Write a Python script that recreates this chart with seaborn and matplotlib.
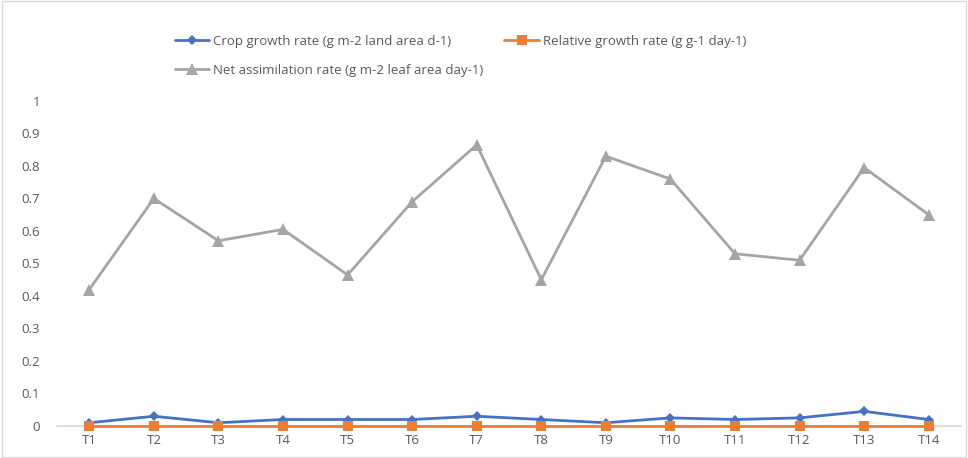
import pandas as pd
import numpy as np
import matplotlib
matplotlib.use('Agg')
import matplotlib.pyplot as plt
import seaborn as sns

sns.set_style('white')
plt.rcParams['font.family'] = ['Open Sans', 'DejaVu Sans']

treatments = ['T1', 'T2', 'T3', 'T4', 'T5', 'T6', 'T7', 'T8', 'T9', 'T10', 'T11', 'T12', 'T13', 'T14']
crop_growth = [0.01, 0.03, 0.01, 0.02, 0.02, 0.02, 0.03, 0.02, 0.01, 0.025, 0.02, 0.025, 0.045, 0.02]
relative_growth = [0.0] * 14
net_assim = [0.42, 0.70, 0.57, 0.605, 0.465, 0.69, 0.865, 0.45, 0.83, 0.76, 0.53, 0.51, 0.795, 0.65]

names = ['Crop growth rate (g m-2 land area d-1)',
         'Relative growth rate (g g-1 day-1)',
         'Net assimilation rate (g m-2 leaf area day-1)']

fig = plt.figure(figsize=(9.68, 4.58), dpi=100)
ax = fig.add_axes([57 / 968, 1 - 426 / 458, 904 / 968, 325 / 458])

df = pd.DataFrame({'T': treatments, 'cgr': crop_growth, 'rgr': relative_growth, 'nar': net_assim})

sns.lineplot(data=df, x='T', y='nar', ax=ax, color='#A5A5A5', marker='^', markersize=8,
             markeredgewidth=0, linewidth=2, sort=False, label=names[2])
sns.lineplot(data=df, x='T', y='cgr', ax=ax, color='#4472C4', marker='D', markersize=5.5,
             markeredgewidth=0, linewidth=2, sort=False, label=names[0])
sns.lineplot(data=df, x='T', y='rgr', ax=ax, color='#ED7D31', marker='s', markersize=7.5,
             markeredgewidth=0, linewidth=2, sort=False, label=names[1])
for ln in ax.lines:
    ln.set_clip_on(False)

ax.set_xlim(-0.5, len(treatments) - 0.5)
ax.set_ylim(0, 1)
ax.set_yticks(np.arange(0, 1.01, 0.1))
ax.set_yticklabels(['0', '0.1', '0.2', '0.3', '0.4', '0.5', '0.6', '0.7', '0.8', '0.9', '1'])
ax.set_xlabel('')
ax.set_ylabel('')
ax.tick_params(axis='both', length=0, labelsize=9.5, colors='#595959')
ax.tick_params(axis='x', pad=6)
ax.tick_params(axis='y', pad=12)
for s in ['top', 'right', 'left']:
    ax.spines[s].set_visible(False)
ax.spines['bottom'].set_color('#D9D9D9')
ax.spines['bottom'].set_linewidth(1.2)
ax.spines['bottom'].set_zorder(0)

h, l = ax.get_legend_handles_labels()
ax.get_legend().remove()
# order so rows read: CGR, RGR / NAR
fig.legend([h[1], h[0], h[2]], [l[1], l[0], l[2]], ncol=2, loc='upper left',
           bbox_to_anchor=(163 / 968, 1 - 23 / 458), frameon=False, fontsize=9.5,
           labelcolor='#595959', handlelength=2.6, columnspacing=1.6, labelspacing=1.2,
           handletextpad=0.3)

fig.patches.append(plt.Rectangle((0.002, 0.003), 0.996, 0.994, transform=fig.transFigure,
                                 fill=False, edgecolor='#D9D9D9', linewidth=1))

fig.savefig('out.png', dpi=100)
